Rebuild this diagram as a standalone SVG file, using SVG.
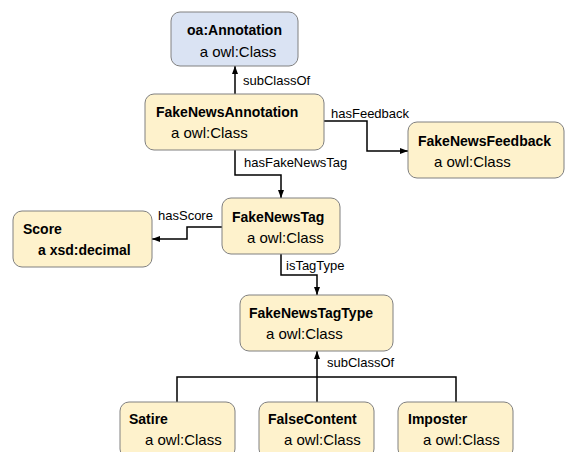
<svg xmlns="http://www.w3.org/2000/svg" width="566" height="452" viewBox="0 0 566 452">
<style>
.box{fill:#fef2cc;stroke:#808080;stroke-width:1}
.blue{fill:#dae3f3;stroke:#808080;stroke-width:1}
.t{font-family:"Liberation Sans",Arial,sans-serif;fill:#000}
.b{font-size:14px;font-weight:bold}
.r{font-size:15px}
.lbl{font-size:13px}
.c{fill:none;stroke:#000;stroke-width:1.5}
</style>
<defs>
<marker id="ah" markerUnits="userSpaceOnUse" markerWidth="8" markerHeight="8" viewBox="0 0 8 8" refX="8" refY="4" orient="auto">
<path d="M0,1 L8,4 L0,7 Z" fill="#000"/>
</marker>
</defs>
<g id="connectors">
<path class="c" d="M235,94 V66" marker-end="url(#ah)"/>
<path class="c" d="M324,121 H367 V151 H408" marker-end="url(#ah)"/>
<path class="c" d="M235,150 V175 H281 V198" marker-end="url(#ah)"/>
<path class="c" d="M222,227 H187 V239 H152" marker-end="url(#ah)"/>
<path class="c" d="M281,254 V275 H317 V295" marker-end="url(#ah)"/>
<path class="c" d="M317,402 V351" marker-end="url(#ah)"/>
<path class="c" d="M177,402 V377 H456 V402"/>
<text class="t lbl" x="243" y="85">subClassOf</text>
<text class="t lbl" x="331" y="118">hasFeedback</text>
<text class="t lbl" x="244" y="167">hasFakeNewsTag</text>
<text class="t lbl" x="158" y="220">hasScore</text>
<text class="t lbl" x="286" y="270">isTagType</text>
<text class="t lbl" x="327" y="367">subClassOf</text>
</g>
<g id="oaAnnotation">
<rect class="blue" x="171" y="12" width="127" height="54" rx="9"/>
<text class="t b" x="234.5" y="35" text-anchor="middle">oa:Annotation</text>
<text class="t r" x="238" y="57" text-anchor="middle">a owl:Class</text>
</g>
<g id="FakeNewsAnnotation">
<rect class="box" x="145" y="94" width="179" height="56" rx="9"/>
<text class="t b" x="156" y="117">FakeNewsAnnotation</text>
<text class="t r" x="171" y="138">a owl:Class</text>
</g>
<g id="FakeNewsFeedback">
<rect class="box" x="408" y="122" width="156" height="56" rx="9"/>
<text class="t b" x="418" y="146">FakeNewsFeedback</text>
<text class="t r" x="434" y="167">a owl:Class</text>
</g>
<g id="FakeNewsTag">
<rect class="box" x="222" y="198" width="118" height="56" rx="9"/>
<text class="t b" x="232" y="222">FakeNewsTag</text>
<text class="t r" x="247" y="243">a owl:Class</text>
</g>
<g id="Score">
<rect class="box" x="13" y="211" width="139" height="56" rx="9"/>
<text class="t b" x="23" y="234">Score</text>
<text class="t b" x="38" y="255">a xsd:decimal</text>
</g>
<g id="FakeNewsTagType">
<rect class="box" x="240" y="295" width="153" height="56" rx="9"/>
<text class="t b" x="249" y="318">FakeNewsTagType</text>
<text class="t r" x="266" y="339">a owl:Class</text>
</g>
<g id="Satire">
<rect class="box" x="120" y="402" width="115" height="56" rx="9"/>
<text class="t b" x="129" y="424">Satire</text>
<text class="t r" x="145" y="445">a owl:Class</text>
</g>
<g id="FalseContent">
<rect class="box" x="259" y="402" width="115" height="56" rx="9"/>
<text class="t b" x="268" y="424">FalseContent</text>
<text class="t r" x="284" y="445">a owl:Class</text>
</g>
<g id="Imposter">
<rect class="box" x="398" y="402" width="115" height="56" rx="9"/>
<text class="t b" x="408" y="424">Imposter</text>
<text class="t r" x="423" y="445">a owl:Class</text>
</g>
</svg>
